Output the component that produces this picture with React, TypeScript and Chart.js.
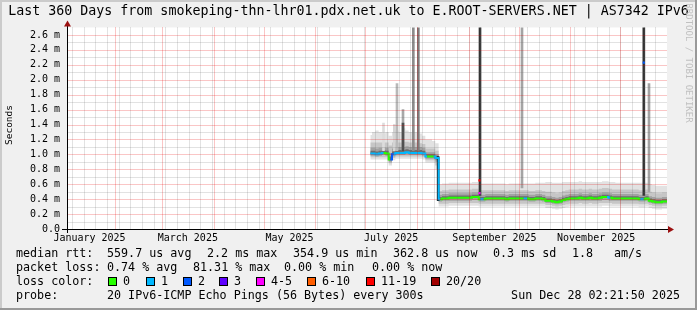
import React, { useEffect, useRef } from 'react';
import { Chart, registerables } from 'chart.js';

Chart.register(...registerables);

const W = 697;
const H = 310;
const MONO = "'DejaVu Sans Mono', monospace";

const titleText = 'Last 360 Days from smokeping-thn-lhr01.pdx.net.uk to E.ROOT-SERVERS.NET | AS7342 IPv6';

// x axis: days since 1 Jan 2025
const xMin = 2.0;
const xMax = 362.0;
const monthStartDays = [0, 31, 59, 90, 120, 151, 181, 212, 243, 273, 304, 334];
const weekStartDays = [5, 12, 19, 26, 33, 40, 47, 54, 61, 68, 75, 82, 89, 96, 103, 110, 117, 124, 131, 138, 145, 152, 159, 166, 173, 180,
  187, 194, 201, 208, 215, 222, 229, 236, 243, 250, 257, 264, 271, 278, 285, 292, 299, 306, 313, 320, 327, 334, 341, 348, 355];
const monthLabelDays = [15.5, 74.5, 135.5, 196.5, 258.5, 319.5];
const monthLabels = ['January 2025', 'March 2025', 'May 2025', 'July 2025', 'September 2025', 'November 2025'];

// y axis (milliseconds)
const yMax = 2.7;
const yTickValues = [0, 0.2, 0.4, 0.6, 0.8, 1.0, 1.2, 1.4, 1.6, 1.8, 2.0, 2.2, 2.4, 2.6];
const yTickLabels = ['0.0', '0.2 m', '0.4 m', '0.6 m', '0.8 m', '1.0 m', '1.2 m', '1.4 m', '1.6 m', '1.8 m', '2.0 m', '2.2 m', '2.4 m', '2.6 m'];
const yMinorValues = [0.1, 0.3, 0.5, 0.7, 0.9, 1.1, 1.3, 1.5, 1.7, 1.9, 2.1, 2.3, 2.5];

// two-day bins (centre day)
const binDays = [184, 186, 188, 190, 192, 194, 196, 198, 200, 202, 204, 206, 208, 210, 212, 214, 216, 218, 220, 222, 224,
  226, 228, 230, 232, 234, 236, 238, 240, 242, 244, 246, 248,
  250, 252, 254, 256, 258, 260, 262, 264, 266, 268, 270, 272, 274, 276, 278, 280, 282, 284, 286, 288,
  290, 292, 294, 296, 298, 300, 302, 304, 306,
  308, 310, 312, 314, 316, 318, 320, 322, 324, 326, 328, 330, 332, 334, 336, 338,
  340, 342, 344, 346, 348, 350, 352, 354, 356, 358, 360, 362];

const medianMs = [1.01, 1.01, 1.00, 1.01, 1.02, 1.01, 0.93, 1.00, 1.02, 1.02, 1.02, 1.03, 1.02, 1.02, 1.02, 1.02, 1.01, 0.97, 0.97, 0.97, 0.95,
  0.40, 0.41, 0.41, 0.42, 0.42, 0.42, 0.42, 0.42, 0.42, 0.42, 0.43, 0.43,
  0.40, 0.40, 0.41, 0.41, 0.41, 0.41, 0.41, 0.41, 0.40, 0.41, 0.41, 0.41, 0.41, 0.41, 0.41, 0.40, 0.40, 0.41, 0.41, 0.40,
  0.38, 0.38, 0.37, 0.36, 0.37, 0.39, 0.40, 0.41, 0.41,
  0.41, 0.42, 0.41, 0.41, 0.42, 0.41, 0.41, 0.42, 0.43, 0.43, 0.42, 0.41, 0.41, 0.41, 0.41, 0.41,
  0.41, 0.41, 0.41, 0.40, 0.40, 0.41, 0.38, 0.37, 0.36, 0.36, 0.37, 0.37];

const lossCount = [1, 1, 1, 1, 0, 0, 2, 1, 1, 1, 1, 1, 1, 1, 1, 1, 1, 0, 0, 1, 1,
  0, 0, 0, 0, 0, 0, 0, 0, 0, 0, 0, 0,
  1, 0, 0, 0, 0, 0, 0, 0, 0, 0, 0, 0, 0, 1, 0, 0, 0, 0, 0, 0,
  0, 0, 0, 0, 0, 0, 0, 0, 0,
  0, 0, 0, 0, 0, 0, 0, 0, 0, 1, 0, 0, 0, 0, 0, 0,
  0, 0, 0, 1, 0, 0, 0, 0, 0, 0, 0, 0];

const smokeOuterHi = [1.26, 1.30, 1.32, 1.30, 1.28, 1.30, 1.25, 1.30, 1.32, 1.30, 1.35, 1.32, 1.30, 1.30, 1.30, 1.28, 1.25, 1.20, 1.20, 1.18, 1.15,
  0.60, 0.61, 0.61, 0.62, 0.62, 0.62, 0.62, 0.62, 0.62, 0.62, 0.63, 0.63,
  0.61, 0.61, 0.61, 0.61, 0.61, 0.61, 0.61, 0.61, 0.60, 0.61, 0.61, 0.61, 0.61, 0.61, 0.61, 0.61, 0.61, 0.62, 0.62, 0.62,
  0.63, 0.63, 0.62, 0.62, 0.62, 0.63, 0.63, 0.63, 0.63,
  0.63, 0.64, 0.63, 0.63, 0.63, 0.63, 0.63, 0.63, 0.64, 0.64, 0.63, 0.63, 0.62, 0.62, 0.62, 0.62,
  0.62, 0.62, 0.62, 0.62, 0.62, 0.62, 0.60, 0.59, 0.58, 0.58, 0.58, 0.58];
const smokeOuterLo = [0.93, 0.93, 0.93, 0.93, 0.93, 0.93, 0.85, 0.92, 0.94, 0.94, 0.94, 0.94, 0.94, 0.94, 0.94, 0.94, 0.93, 0.89, 0.89, 0.89, 0.80,
  0.30, 0.30, 0.30, 0.31, 0.31, 0.31, 0.31, 0.31, 0.31, 0.31, 0.31, 0.31,
  0.30, 0.30, 0.30, 0.30, 0.30, 0.30, 0.30, 0.30, 0.30, 0.30, 0.30, 0.30, 0.30, 0.30, 0.30, 0.30, 0.30, 0.30, 0.30, 0.30,
  0.28, 0.28, 0.27, 0.26, 0.27, 0.28, 0.29, 0.30, 0.30,
  0.30, 0.30, 0.30, 0.30, 0.30, 0.30, 0.30, 0.30, 0.31, 0.31, 0.30, 0.30, 0.30, 0.30, 0.30, 0.30,
  0.30, 0.30, 0.30, 0.29, 0.29, 0.30, 0.28, 0.27, 0.26, 0.26, 0.27, 0.27];
const smokeMidHi = [1.16, 1.16, 1.16, 1.16, 1.16, 1.16, 1.12, 1.16, 1.16, 1.16, 1.17, 1.17, 1.16, 1.16, 1.16, 1.15, 1.14, 1.08, 1.08, 1.08, 1.05,
  0.51, 0.52, 0.52, 0.53, 0.53, 0.53, 0.53, 0.53, 0.53, 0.53, 0.54, 0.54,
  0.52, 0.52, 0.52, 0.52, 0.52, 0.52, 0.52, 0.52, 0.51, 0.52, 0.52, 0.52, 0.52, 0.52, 0.52, 0.51, 0.51, 0.52, 0.52, 0.51,
  0.50, 0.50, 0.49, 0.48, 0.49, 0.51, 0.52, 0.53, 0.53,
  0.53, 0.54, 0.53, 0.53, 0.54, 0.53, 0.53, 0.54, 0.55, 0.55, 0.54, 0.53, 0.53, 0.53, 0.53, 0.53,
  0.53, 0.53, 0.53, 0.52, 0.52, 0.53, 0.50, 0.49, 0.48, 0.48, 0.49, 0.49];
const smokeMidLo = [0.96, 0.96, 0.96, 0.96, 0.96, 0.96, 0.88, 0.95, 0.97, 0.97, 0.97, 0.97, 0.97, 0.97, 0.97, 0.97, 0.96, 0.92, 0.92, 0.92, 0.85,
  0.34, 0.34, 0.34, 0.35, 0.35, 0.35, 0.35, 0.35, 0.35, 0.35, 0.35, 0.35,
  0.34, 0.34, 0.34, 0.34, 0.34, 0.34, 0.34, 0.34, 0.34, 0.34, 0.34, 0.34, 0.34, 0.34, 0.34, 0.34, 0.34, 0.34, 0.34, 0.34,
  0.32, 0.32, 0.31, 0.30, 0.31, 0.32, 0.33, 0.34, 0.34,
  0.34, 0.35, 0.34, 0.34, 0.35, 0.34, 0.34, 0.35, 0.35, 0.35, 0.35, 0.34, 0.34, 0.34, 0.34, 0.34,
  0.34, 0.34, 0.34, 0.33, 0.33, 0.34, 0.32, 0.31, 0.30, 0.30, 0.31, 0.31];
const smokeInnerHi = [1.09, 1.09, 1.08, 1.09, 1.10, 1.09, 1.02, 1.08, 1.10, 1.10, 1.10, 1.11, 1.10, 1.10, 1.10, 1.10, 1.09, 1.03, 1.03, 1.03, 1.00,
  0.46, 0.47, 0.47, 0.48, 0.48, 0.48, 0.48, 0.48, 0.48, 0.48, 0.49, 0.49,
  0.46, 0.46, 0.47, 0.47, 0.47, 0.47, 0.47, 0.47, 0.46, 0.47, 0.47, 0.47, 0.47, 0.47, 0.47, 0.46, 0.46, 0.47, 0.47, 0.46,
  0.44, 0.44, 0.43, 0.42, 0.43, 0.45, 0.46, 0.47, 0.47,
  0.47, 0.48, 0.47, 0.47, 0.48, 0.47, 0.47, 0.48, 0.49, 0.49, 0.48, 0.47, 0.47, 0.47, 0.47, 0.47,
  0.47, 0.47, 0.47, 0.46, 0.46, 0.47, 0.44, 0.43, 0.42, 0.42, 0.43, 0.43];
const smokeInnerLo = [0.98, 0.98, 0.97, 0.98, 0.99, 0.98, 0.90, 0.97, 0.99, 0.99, 0.99, 1.00, 0.99, 0.99, 0.99, 0.99, 0.98, 0.94, 0.94, 0.94, 0.90,
  0.37, 0.38, 0.38, 0.38, 0.38, 0.38, 0.38, 0.38, 0.38, 0.38, 0.39, 0.39,
  0.37, 0.37, 0.38, 0.38, 0.38, 0.38, 0.38, 0.38, 0.37, 0.38, 0.38, 0.38, 0.38, 0.38, 0.38, 0.37, 0.37, 0.38, 0.38, 0.37,
  0.35, 0.35, 0.34, 0.33, 0.34, 0.36, 0.37, 0.38, 0.38,
  0.38, 0.38, 0.38, 0.38, 0.38, 0.38, 0.38, 0.38, 0.39, 0.39, 0.38, 0.38, 0.38, 0.38, 0.38, 0.38,
  0.38, 0.38, 0.38, 0.37, 0.37, 0.38, 0.35, 0.34, 0.33, 0.33, 0.34, 0.34];
const smokeCoreHi = [1.05, 1.05, 1.04, 1.05, 1.06, 1.05, 0.97, 1.04, 1.06, 1.06, 1.06, 1.07, 1.06, 1.06, 1.06, 1.06, 1.05, 1.00, 1.00, 1.00, 0.98,
  0.43, 0.44, 0.44, 0.45, 0.45, 0.45, 0.45, 0.45, 0.45, 0.45, 0.46, 0.46,
  0.43, 0.43, 0.44, 0.44, 0.44, 0.44, 0.44, 0.44, 0.43, 0.44, 0.44, 0.44, 0.44, 0.44, 0.44, 0.43, 0.43, 0.44, 0.44, 0.43,
  0.41, 0.41, 0.40, 0.39, 0.40, 0.42, 0.43, 0.44, 0.44,
  0.44, 0.45, 0.44, 0.44, 0.45, 0.44, 0.44, 0.45, 0.46, 0.46, 0.45, 0.44, 0.44, 0.44, 0.44, 0.44,
  0.44, 0.44, 0.44, 0.43, 0.43, 0.44, 0.41, 0.40, 0.39, 0.39, 0.40, 0.40];
const smokeCoreLo = [1.00, 1.00, 0.99, 1.00, 1.01, 1.00, 0.92, 0.99, 1.01, 1.01, 1.01, 1.02, 1.01, 1.01, 1.01, 1.01, 1.00, 0.96, 0.96, 0.96, 0.93,
  0.39, 0.40, 0.40, 0.41, 0.41, 0.41, 0.41, 0.41, 0.41, 0.41, 0.42, 0.42,
  0.39, 0.39, 0.40, 0.40, 0.40, 0.40, 0.40, 0.40, 0.39, 0.40, 0.40, 0.40, 0.40, 0.40, 0.40, 0.39, 0.39, 0.40, 0.40, 0.39,
  0.37, 0.37, 0.36, 0.35, 0.36, 0.38, 0.39, 0.40, 0.40,
  0.40, 0.41, 0.40, 0.40, 0.41, 0.40, 0.40, 0.41, 0.42, 0.42, 0.41, 0.40, 0.40, 0.40, 0.40, 0.40,
  0.40, 0.40, 0.40, 0.39, 0.39, 0.40, 0.37, 0.36, 0.35, 0.35, 0.36, 0.36];

// narrow spikes (single bins with large outliers)
const spikeDays = [191.9, 198.4, 200.0, 203.6, 203.6, 209.8, 212.8, 224.7, 249.8, 275.0, 348.1, 351.2];
const spikeLo = [1.05, 1.05, 1.05, 1.05, 1.05, 1.05, 1.05, 0.38, 0.45, 0.55, 0.45, 0.50];
const spikeHi = [1.42, 1.40, 1.95, 1.60, 1.42, 2.80, 2.80, 0.97, 2.80, 2.80, 2.80, 1.95];
const spikeShade = ['#dcdcdc', '#d4d4d4', '#b8b8b8', '#a8a8a8', '#505050', '#8c8c8c', '#7c7c7c', '#202020', '#333333', '#a4a4a4', '#333333', '#a4a4a4'];

// medians of loss events
const eventDays = [249.5, 249.5, 348.1];
const eventMedian = [0.65, 0.48, 2.23];
const eventLoss = [12, 4, 2];

const lossLabels = ['0', '1', '2', '3', '4-5', '6-10', '11-19', '20/20'];
const lossColors = ['#26ff00', '#00b8ff', '#0059ff', '#5e00ff', '#ff00ff', '#ff5e00', '#ff0000', '#a10000'];
const lossBoxX = [108, 146, 183, 219, 256, 307, 366, 431];

function lossColor(n: number): string {
  if (n <= 0) return lossColors[0];
  if (n === 1) return lossColors[1];
  if (n === 2) return lossColors[2];
  if (n === 3) return lossColors[3];
  if (n <= 5) return lossColors[4];
  if (n <= 10) return lossColors[5];
  if (n <= 19) return lossColors[6];
  return lossColors[7];
}

const pts = (ys: number[]) => binDays.map((d, i) => ({ x: d, y: ys[i] }));

const legendRows: [number, number, string][] = [
  [16, 254, 'median rtt:'], [107, 254, '559.7 us avg'], [207, 254, '2.2 ms max'], [293, 254, '354.9 us min'],
  [393, 254, '362.8 us now'], [493, 254, '0.3 ms sd'], [572, 254, '1.8'], [614, 254, 'am/s'],
  [16, 268, 'packet loss:'], [107, 268, '0.74 % avg'], [193, 268, '81.31 % max'], [284, 268, '0.00 % min'], [372, 268, '0.00 % now'],
  [16, 282, 'loss color:'],
  [16, 296, 'probe:'], [107, 296, '20 IPv6-ICMP Echo Pings (56 Bytes) every 300s'],
];

const PLOT_LEFT = 67;
const PLOT_RIGHT = 667;
const PLOT_TOP = 27.5;
const PLOT_BOTTOM = 229;

const MAJOR = 'rgba(230,0,0,0.45)';
const MINOR = 'rgba(100,100,100,0.38)';

const paintPlugin = {
  id: 'paint',
  beforeDraw(chart: any) {
    const { ctx, chartArea: a } = chart;
    ctx.save();
    ctx.fillStyle = '#f0f0f0';
    ctx.fillRect(0, 0, W, H);
    ctx.fillStyle = '#cbcbcb';
    ctx.fillRect(0, 0, W, 2);
    ctx.fillRect(0, 0, 2, H);
    ctx.fillStyle = '#999999';
    ctx.fillRect(0, H - 2, W, 2);
    ctx.fillRect(W - 2, 0, 2, H);
    ctx.fillStyle = '#ffffff';
    ctx.fillRect(a.left, a.top, a.right - a.left, a.bottom - a.top);
    ctx.restore();
  },
  afterDatasetsDraw(chart: any) {
    const { ctx, chartArea: a } = chart;
    const xs = chart.scales.x;
    const ys = chart.scales.y;
    const top = Math.floor(a.top) + 0.5;
    ctx.save();
    ctx.lineWidth = 1;
    ctx.setLineDash([1, 1]);
    const vline = (d: number, color: string) => {
      if (d < xMin || d > xMax) return;
      const px = Math.round(xs.getPixelForValue(d)) + 0.5;
      ctx.strokeStyle = color;
      ctx.beginPath();
      ctx.moveTo(px, top);
      ctx.lineTo(px, a.bottom);
      ctx.stroke();
    };
    const hline = (v: number, color: string) => {
      const py = Math.round(ys.getPixelForValue(v)) + 0.5;
      ctx.strokeStyle = color;
      ctx.beginPath();
      ctx.moveTo(a.left + 0.5, py);
      ctx.lineTo(a.right, py);
      ctx.stroke();
    };
    weekStartDays.forEach((d) => vline(d, MINOR));
    yMinorValues.forEach((v) => hline(v, MINOR));
    monthStartDays.forEach((d) => vline(d, MAJOR));
    yTickValues.forEach((v) => { if (v > 0) hline(v, MAJOR); });
    ctx.restore();
  },
  afterDraw(chart: any) {
    const { ctx, chartArea: a } = chart;
    ctx.save();
    // axes
    ctx.strokeStyle = '#000000';
    ctx.lineWidth = 1;
    ctx.beginPath();
    ctx.moveTo(a.left - 5, a.bottom + 0.5);
    ctx.lineTo(a.right + 3, a.bottom + 0.5);
    ctx.moveTo(a.left + 0.5, a.bottom + 4);
    ctx.lineTo(a.left + 0.5, a.top - 4);
    ctx.stroke();
    ctx.fillStyle = '#9b1010';
    ctx.beginPath();
    ctx.moveTo(a.right + 1, a.bottom - 3);
    ctx.lineTo(a.right + 7, a.bottom + 0.5);
    ctx.lineTo(a.right + 1, a.bottom + 4);
    ctx.closePath();
    ctx.fill();
    ctx.beginPath();
    ctx.moveTo(a.left - 3, a.top - 1);
    ctx.lineTo(a.left + 0.5, a.top - 7);
    ctx.lineTo(a.left + 4, a.top - 1);
    ctx.closePath();
    ctx.fill();

    // title
    ctx.fillStyle = '#000000';
    ctx.font = `13.3px ${MONO}`;
    ctx.textAlign = 'center';
    ctx.textBaseline = 'middle';
    ctx.fillText(titleText, W / 2, 12);

    // y title
    ctx.save();
    ctx.translate(10, 125);
    ctx.rotate(-Math.PI / 2);
    ctx.font = `9.5px ${MONO}`;
    ctx.fillText('Seconds', 0, 0);
    ctx.restore();

    // watermark
    ctx.save();
    ctx.translate(688, 63);
    ctx.rotate(Math.PI / 2);
    ctx.fillStyle = '#c0c0c0';
    ctx.font = `9px ${MONO}`;
    ctx.fillText('RRDTOOL / TOBI OETIKER', 0, 0);
    ctx.restore();

    // legend
    ctx.font = `11.7px ${MONO}`;
    ctx.textAlign = 'left';
    ctx.fillStyle = '#000000';
    legendRows.forEach(([x, y, t]) => ctx.fillText(t, x, y));
    lossLabels.forEach((lab, i) => {
      const bx = lossBoxX[i];
      ctx.fillStyle = lossColors[i];
      ctx.fillRect(bx, 277, 9, 9);
      ctx.strokeStyle = '#000000';
      ctx.strokeRect(bx + 0.5, 277.5, 8, 8);
      ctx.fillStyle = '#000000';
      ctx.fillText(lab, bx + 15, 282);
    });
    ctx.textAlign = 'right';
    ctx.fillText('Sun Dec 28 02:21:50 2025', 680, 296);
    ctx.restore();
  },
};

export default function App() {
  const ref = useRef<HTMLCanvasElement | null>(null);
  useEffect(() => {
    document.body.style.margin = '0';
    const canvas = ref.current;
    if (!canvas) return;
    const band = (lo: number[], hi: number[], color: string, order: number) => [
      { type: 'line', data: pts(lo), borderColor: 'rgba(0,0,0,0)', borderWidth: 0, pointRadius: 0, fill: false, stepped: 'middle', order },
      { type: 'line', data: pts(hi), borderColor: 'rgba(0,0,0,0)', borderWidth: 0, pointRadius: 0, backgroundColor: color, fill: '-1', stepped: 'middle', order },
    ];
    const chart = new Chart(canvas, {
      type: 'line',
      data: {
        datasets: [
          ...band(smokeOuterLo, smokeOuterHi, '#e2e2e2', 10),
          ...band(smokeMidLo, smokeMidHi, '#c6c6c6', 9),
          ...band(smokeInnerLo, smokeInnerHi, '#a2a2a2', 8),
          ...band(smokeCoreLo, smokeCoreHi, '#6e6e6e', 7),
          {
            type: 'bar',
            data: spikeDays.map((d, i) => ({ x: d, y: [spikeLo[i], spikeHi[i]] })),
            backgroundColor: spikeShade,
            barThickness: 2,
            order: 6,
          },
          {
            type: 'line',
            data: pts(medianMs),
            borderWidth: 2,
            borderColor: lossColors[0],
            pointRadius: 0,
            fill: false,
            stepped: 'middle',
            segment: { borderColor: (c: any) => lossColor(lossCount[c.p0DataIndex]) },
            order: 2,
          },
          {
            type: 'line',
            data: eventDays.map((d, i) => ({ x: d, y: eventMedian[i] })),
            showLine: false,
            pointStyle: 'rect',
            pointRadius: 1.6,
            pointBorderWidth: 0,
            pointBackgroundColor: eventLoss.map(lossColor),
            order: 1,
          },
        ] as any,
      },
      options: {
        responsive: false,
        animation: false,
        events: [],
        layout: { padding: { left: 0, right: W - PLOT_RIGHT, top: PLOT_TOP, bottom: 0 } },
        plugins: { legend: { display: false }, title: { display: false }, tooltip: { enabled: false } },
        scales: {
          x: {
            type: 'linear', position: 'bottom', min: xMin, max: xMax, offset: false,
            afterBuildTicks: (s: any) => { s.ticks = monthLabelDays.map((d) => ({ value: d })); },
            ticks: {
              autoSkip: false, maxRotation: 0, padding: 3, color: '#000000',
              font: { family: MONO, size: 10 },
              callback: (_v: any, i: number) => monthLabels[i],
            },
            grid: { display: false, drawTicks: false },
            border: { display: false },
            afterFit: (s: any) => { s.height = H - PLOT_BOTTOM; },
          },
          y: {
            type: 'linear', position: 'left', min: 0, max: yMax,
            afterBuildTicks: (s: any) => { s.ticks = yTickValues.map((v) => ({ value: v })); },
            ticks: {
              padding: 7, color: '#000000', font: { family: MONO, size: 10 }, autoSkip: false,
              callback: (_v: any, i: number) => yTickLabels[i],
            },
            grid: { display: false, drawTicks: false },
            border: { display: false },
            afterFit: (s: any) => { s.width = PLOT_LEFT; },
          },
        },
      } as any,
      plugins: [paintPlugin],
    });
    return () => chart.destroy();
  }, []);
  return <canvas ref={ref} width={W} height={H} style={{ display: 'block' }} />;
}
